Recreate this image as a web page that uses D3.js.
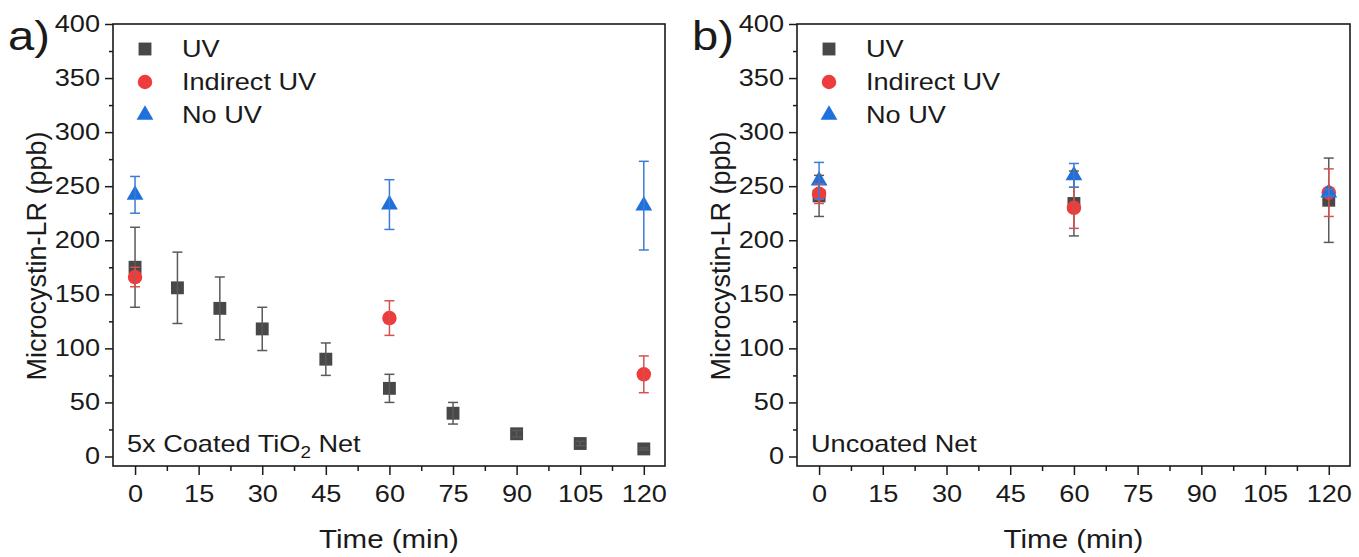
<!DOCTYPE html>
<html>
<head>
<meta charset="utf-8">
<script src="https://cdn.jsdelivr.net/npm/d3@7"></script>
<style>
  body { margin: 0; background: #fff; }
  svg { font-family: "Liberation Sans", Arial, sans-serif; }
</style>
</head>
<body>
<div id="chart"></div>
<script>
// two panels of microcystin-LR vs time, one per net type

const seriesNames = ["UV", "Indirect UV", "No UV"];
const xTickValues = [0, 15, 30, 45, 60, 75, 90, 105, 120];
const xMinorValues = [7.5, 22.5, 37.5, 52.5, 67.5, 82.5, 97.5, 112.5];
const yTickValues = [0, 50, 100, 150, 200, 250, 300, 350, 400];
const yMinorValues = [25, 75, 125, 175, 225, 275, 325, 375];

// panel a) 5x coated TiO2 net
const uvTimesA = [0, 10, 20, 30, 45, 60, 75, 90, 105, 120];
const uvMeanA = [175, 156, 137, 118, 90, 63, 40, 21, 12, 7];
const uvErrA = [37, 33, 29, 20, 15, 13, 10, 3, 2, 1];
const indirectTimesA = [0, 60, 120];
const indirectMeanA = [166, 128, 76];
const indirectErrA = [9, 16, 17];
const noUvTimesA = [0, 60, 120];
const noUvMeanA = [242, 233, 232];
const noUvErrA = [17, 23, 41];

// panel b) uncoated net
const uvTimesB = [0, 60, 120];
const uvMeanB = [241, 234, 237];
const uvErrB = [19, 30, 39];
const indirectTimesB = [0, 60, 120];
const indirectMeanB = [243, 230, 244];
const indirectErrB = [9, 19, 22];
const noUvTimesB = [0, 60, 120];
const noUvMeanB = [255, 260, 244];
const noUvErrB = [17, 11, 3];

const W = 1359, H = 557;
const stretch = 1.18;   // text in the figure is a bit wide
const ink = "#1a1a1a";

const styles = [
    { marker: d3.symbolSquare, size: 166, fill: "#484848", bar: "#5a5a5a" },
    { marker: d3.symbolCircle, size: 165, fill: "#ee3b3b", bar: "#d65050" },
    { marker: d3.symbolTriangle, size: 122, fill: "#1f6fdc", bar: "#3a7dd4" }
];

function zip(times, means, errs) {
    return times.map((t, i) => ({ t: t, m: means[i], e: errs[i] }));
}

const panels = [
    {
        tag: "a)", left: 113, right: 665,
        note: ["5x Coated TiO", "2", " Net"],
        series: [zip(uvTimesA, uvMeanA, uvErrA), zip(indirectTimesA, indirectMeanA, indirectErrA), zip(noUvTimesA, noUvMeanA, noUvErrA)]
    },
    {
        tag: "b)", left: 797, right: 1350,
        note: ["Uncoated Net"],
        series: [zip(uvTimesB, uvMeanB, uvErrB), zip(indirectTimesB, indirectMeanB, indirectErrB), zip(noUvTimesB, noUvMeanB, noUvErrB)]
    }
];

const frameTop = 24, frameBottom = 466;

const svg = d3.select("#chart").append("svg")
    .attr("width", W)
    .attr("height", H);

function wideText(parent, x, y, str, size, anchor) {
    return parent.append("text")
        .attr("transform", `translate(${x},${y}) scale(${stretch},1)`)
        .attr("text-anchor", anchor || "start")
        .attr("font-size", size)
        .attr("fill", ink)
        .text(str);
}

panels.forEach(p => {
    const x = d3.scaleLinear().domain([-5.2, 125]).range([p.left, p.right]);
    const y = d3.scaleLinear().domain([-8.8, 400]).range([frameBottom, frameTop]);
    const g = svg.append("g");

    // axes
    const xAxis = g.append("g")
        .attr("transform", `translate(0,${frameBottom})`)
        .call(d3.axisBottom(x).tickValues(xTickValues).tickSize(9).tickPadding(11).tickSizeOuter(0));
    g.append("g")
        .attr("transform", `translate(0,${frameBottom})`)
        .call(d3.axisBottom(x).tickValues(xMinorValues).tickSize(5).tickFormat("").tickSizeOuter(0));
    const yAxis = g.append("g")
        .attr("transform", `translate(${p.left},0)`)
        .call(d3.axisLeft(y).tickValues(yTickValues).tickSize(8).tickSizeOuter(0));
    g.append("g")
        .attr("transform", `translate(${p.left},0)`)
        .call(d3.axisLeft(y).tickValues(yMinorValues).tickSize(4).tickFormat("").tickSizeOuter(0));

    g.selectAll(".domain").remove();
    g.selectAll(".tick line").attr("stroke", ink).attr("stroke-width", 1.5);

    xAxis.selectAll("text")
        .attr("font-size", 23)
        .attr("fill", ink)
        .attr("transform", `scale(${stretch},1)`);
    yAxis.selectAll("text")
        .attr("font-size", 23)
        .attr("fill", ink)
        .attr("x", -11)
        .attr("transform", `scale(${stretch},1)`);
    g.selectAll("g[font-family]").attr("font-family", null);

    // frame
    g.append("rect")
        .attr("x", p.left)
        .attr("y", frameTop)
        .attr("width", p.right - p.left)
        .attr("height", frameBottom - frameTop)
        .attr("fill", "none")
        .attr("stroke", ink)
        .attr("stroke-width", 1.6);

    // markers first, error bars drawn over them
    p.series.forEach((data, si) => {
        const st = styles[si];
        g.append("g").selectAll("path")
            .data(data)
            .join("path")
            .attr("d", d3.symbol().type(st.marker).size(st.size))
            .attr("transform", d => `translate(${x(d.t)},${y(d.m)})`)
            .attr("fill", st.fill);
    });

    p.series.forEach((data, si) => {
        const st = styles[si];
        const bars = g.append("g")
            .attr("stroke", st.bar)
            .attr("stroke-width", 1.5)
            .selectAll("g")
            .data(data)
            .join("g");
        bars.append("line")
            .attr("x1", d => x(d.t)).attr("x2", d => x(d.t))
            .attr("y1", d => y(d.m - d.e)).attr("y2", d => y(d.m + d.e));
        bars.append("line")
            .attr("x1", d => x(d.t) - 5).attr("x2", d => x(d.t) + 5)
            .attr("y1", d => y(d.m + d.e)).attr("y2", d => y(d.m + d.e));
        bars.append("line")
            .attr("x1", d => x(d.t) - 5).attr("x2", d => x(d.t) + 5)
            .attr("y1", d => y(d.m - d.e)).attr("y2", d => y(d.m - d.e));
    });

    // legend
    const legend = g.append("g");
    seriesNames.forEach((name, i) => {
        const cy = 49 + i * 33;
        legend.append("path")
            .attr("d", d3.symbol().type(styles[i].marker).size(styles[i].size))
            .attr("transform", `translate(${p.left + 32},${cy})`)
            .attr("fill", styles[i].fill);
        wideText(legend, p.left + 69, cy + 8, name, 23);
    });

    // panel note
    const note = g.append("text")
        .attr("transform", `translate(${p.left + 14},${frameBottom - 14}) scale(${stretch},1)`)
        .attr("font-size", 23)
        .attr("fill", ink);
    note.append("tspan").text(p.note[0]);
    if (p.note.length > 1) {
        note.append("tspan").attr("font-size", 16).attr("dy", 6).text(p.note[1]);
        note.append("tspan").attr("dy", -6).text(p.note[2]);
    }

    // titles
    wideText(g, (p.left + p.right) / 2, 548, "Time (min)", 25, "middle");
    g.append("text")
        .attr("transform", `translate(${p.left - 67},256) rotate(-90)`)
        .attr("text-anchor", "middle")
        .attr("font-size", 27)
        .attr("fill", ink)
        .text("Microcystin-LR (ppb)");
    wideText(g, p.left - 105, 50, p.tag, 40);
});
</script>
</body>
</html>
